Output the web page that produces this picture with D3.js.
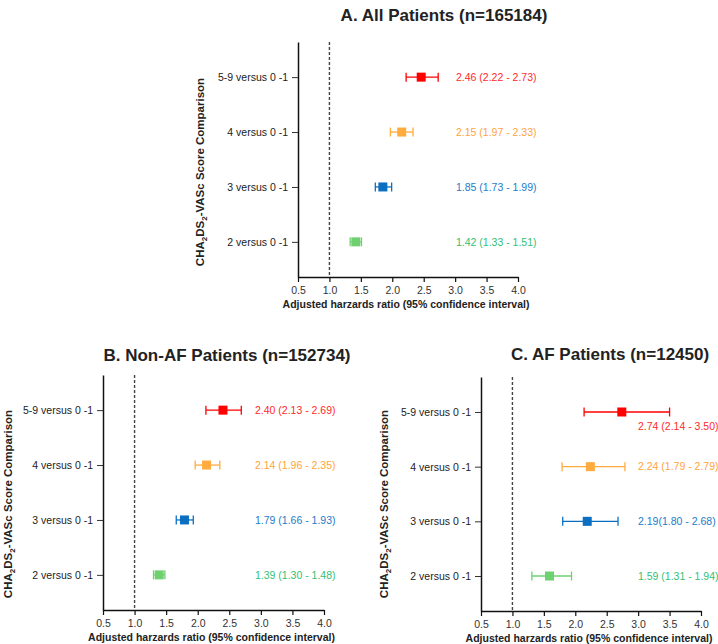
<!DOCTYPE html>
<html>
<head>
<meta charset="utf-8">
<script src="https://cdn.jsdelivr.net/npm/d3@7"></script>
<style>
  html, body { margin: 0; padding: 0; background: #fff; }
  svg { display: block; font-family: "Liberation Sans", Arial, sans-serif; }
</style>
</head>
<body>
<svg id="chart" width="718" height="644"></svg>
<script>
// ---------- DATA ----------
const categories = ["5-9 versus 0 -1", "4 versus 0 -1", "3 versus 0 -1", "2 versus 0 -1"];
const xTicks = [0.5, 1.0, 1.5, 2.0, 2.5, 3.0, 3.5, 4.0];

const allHR  = [2.46, 2.15, 1.85, 1.42];
const allLo  = [2.22, 1.97, 1.73, 1.33];
const allHi  = [2.73, 2.33, 1.99, 1.51];
const allLabels = ["2.46 (2.22 - 2.73)", "2.15 (1.97 - 2.33)", "1.85 (1.73 - 1.99)", "1.42 (1.33 - 1.51)"];

const nonAfHR = [2.40, 2.14, 1.79, 1.39];
const nonAfLo = [2.13, 1.96, 1.66, 1.30];
const nonAfHi = [2.69, 2.35, 1.93, 1.48];
const nonAfLabels = ["2.40 (2.13 - 2.69)", "2.14 (1.96 - 2.35)", "1.79 (1.66 - 1.93)", "1.39 (1.30 - 1.48)"];

const afHR = [2.74, 2.24, 2.19, 1.59];
const afLo = [2.14, 1.79, 1.80, 1.31];
const afHi = [3.50, 2.79, 2.68, 1.94];
const afLabels = ["2.74 (2.14 - 3.50)", "2.24 (1.79 - 2.79)", "2.19(1.80 - 2.68)", "1.59 (1.31 - 1.94)"];

const titles = ["A. All Patients (n=165184)", "B. Non-AF Patients (n=152734)", "C. AF Patients (n=12450)"];
const xTitle = "Adjusted harzards ratio (95% confidence interval)";
const refValue = 1.0;

// ---------- STYLE ----------
const markColors = ["#ff0000", "#ffab3d", "#0b6fc1", "#6fd06f"];
const textColors = ["#ff2a2a", "#ffa43a", "#1c7cc9", "#33bf73"];

// ---------- LAYOUT ----------
const panels = [
  { hr: allHR, lo: allLo, hi: allHi, labels: allLabels, title: titles[0],
    x0: 298, x1: 518, top: 42, bottom: 277, titleX: 444, titleY: 21,
    yTitleX: 200, yTitleY: 172, labelX: 456, below: [] },
  { hr: nonAfHR, lo: nonAfLo, hi: nonAfHi, labels: nonAfLabels, title: titles[1],
    x0: 103, x1: 324, top: 375, bottom: 610, titleX: 227, titleY: 361,
    yTitleX: 8, yTitleY: 504, labelX: 255, below: [] },
  { hr: afHR, lo: afLo, hi: afHi, labels: afLabels, title: titles[2],
    x0: 481, x1: 701, top: 377, bottom: 611, titleX: 610, titleY: 360,
    yTitleX: 384, yTitleY: 504, labelX: 638, below: [0] }
];

const svg = d3.select("#chart");

panels.forEach(p => {
  const g = svg.append("g");
  const x = d3.scaleLinear().domain([0.5, 4.0]).range([p.x0, p.x1]);
  const y = d3.scalePoint().domain(categories).range([p.top, p.bottom]).padding(0.64);

  // title
  g.append("text").attr("x", p.titleX).attr("y", p.titleY)
    .attr("text-anchor", "middle").attr("font-size", 17).attr("font-weight", "bold")
    .attr("fill", "#222").text(p.title);

  // reference dashed line
  g.append("line")
    .attr("x1", x(refValue)).attr("x2", x(refValue))
    .attr("y1", p.top).attr("y2", p.bottom)
    .attr("stroke", "#444").attr("stroke-width", 1.4).attr("stroke-dasharray", "3,2");

  // x axis
  const xAxis = g.append("g").attr("transform", `translate(0,${p.bottom})`)
    .call(d3.axisBottom(x).tickValues(xTicks).tickFormat(d3.format(".1f")).tickSize(5).tickSizeOuter(0));
  xAxis.select(".domain").attr("stroke", "#111").attr("stroke-width", 1.5);
  xAxis.selectAll(".tick line").attr("stroke", "#111").attr("stroke-width", 1.2);
  xAxis.selectAll(".tick text").attr("font-size", 10.5).attr("fill", "#333").attr("font-family", "Liberation Sans, Arial, sans-serif").attr("dy", "0.9em");

  // y axis
  const yAxis = g.append("g").attr("transform", `translate(${p.x0},0)`)
    .call(d3.axisLeft(y).tickSize(6).tickSizeOuter(0).tickPadding(4));
  yAxis.select(".domain").attr("stroke", "#111").attr("stroke-width", 1.5);
  yAxis.selectAll(".tick line").attr("stroke", "#333").attr("stroke-width", 1);
  yAxis.selectAll(".tick text").attr("font-size", 10.5).attr("fill", "#222").attr("font-family", "Liberation Sans, Arial, sans-serif");

  // x title
  g.append("text").attr("x", (p.x0 + p.x1) / 2 - 2).attr("y", p.bottom + 31)
    .attr("text-anchor", "middle").attr("font-size", 10.5).attr("font-weight", "bold")
    .attr("fill", "#222").text(xTitle);

  // y title with subscripts
  const yt = g.append("text")
    .attr("transform", `translate(${p.yTitleX + 4},${p.yTitleY}) rotate(-90)`)
    .attr("text-anchor", "middle").attr("font-size", 11.5).attr("font-weight", "bold").attr("fill", "#222");
  yt.append("tspan").text("CHA");
  yt.append("tspan").attr("font-size", 8).attr("dy", 3).text("2");
  yt.append("tspan").attr("dy", -3).text("DS");
  yt.append("tspan").attr("font-size", 8).attr("dy", 3).text("2");
  yt.append("tspan").attr("dy", -3).text("-VASc Score Comparison");

  // CI whiskers
  const rows = categories.map((c, i) => ({ c, i, hr: p.hr[i], lo: p.lo[i], hi: p.hi[i], label: p.labels[i] }));
  const cap = 4.5, sq = 9;
  const rg = g.selectAll(".row").data(rows).enter().append("g");
  rg.append("line")
    .attr("x1", d => x(d.lo)).attr("x2", d => x(d.hi))
    .attr("y1", d => y(d.c)).attr("y2", d => y(d.c))
    .attr("stroke", d => markColors[d.i]).attr("stroke-width", 1.3);
  rg.append("line")
    .attr("x1", d => x(d.lo)).attr("x2", d => x(d.lo))
    .attr("y1", d => y(d.c) - cap).attr("y2", d => y(d.c) + cap)
    .attr("stroke", d => markColors[d.i]).attr("stroke-width", 1.3);
  rg.append("line")
    .attr("x1", d => x(d.hi)).attr("x2", d => x(d.hi))
    .attr("y1", d => y(d.c) - cap).attr("y2", d => y(d.c) + cap)
    .attr("stroke", d => markColors[d.i]).attr("stroke-width", 1.3);
  rg.append("rect")
    .attr("x", d => x(d.hr) - sq / 2).attr("y", d => y(d.c) - sq / 2)
    .attr("width", sq).attr("height", sq)
    .attr("fill", d => markColors[d.i]);
  rg.append("text")
    .attr("x", p.labelX)
    .attr("y", d => y(d.c) + (p.below.includes(d.i) ? 14 : 0))
    .attr("dy", "0.35em")
    .attr("font-size", 10.5).attr("fill", d => textColors[d.i])
    .text(d => d.label);
});
</script>
</body>
</html>
